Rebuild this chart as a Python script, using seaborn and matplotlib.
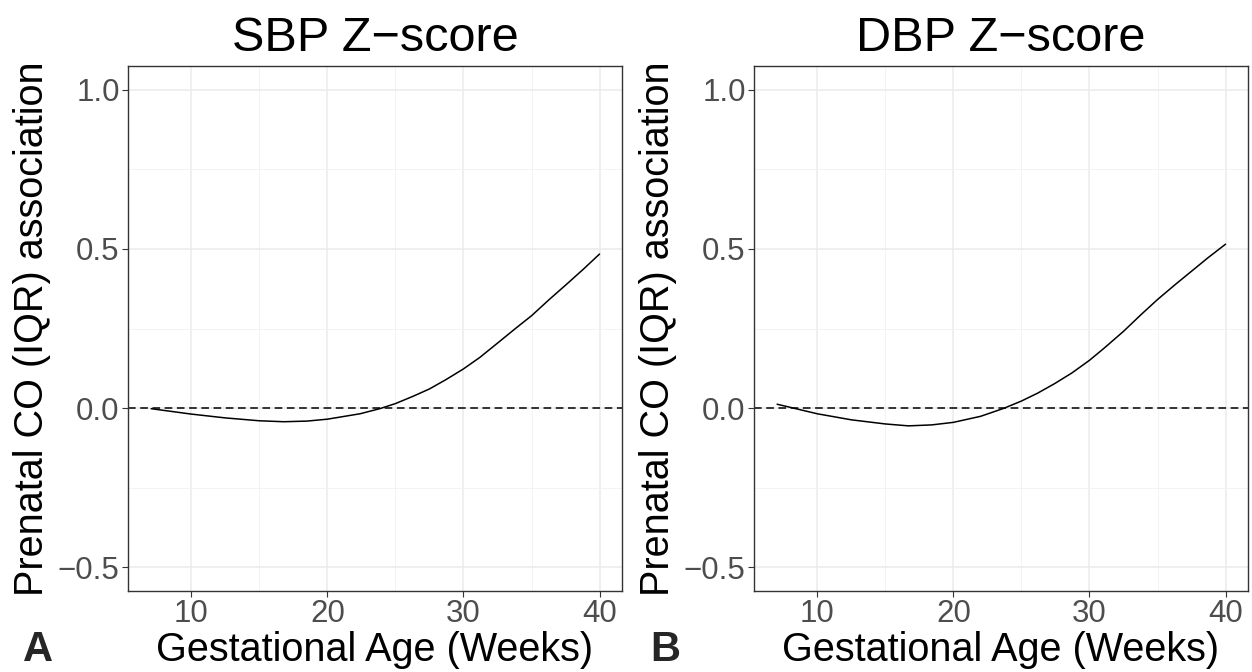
import matplotlib
matplotlib.use("Agg")
import matplotlib.pyplot as plt
import seaborn as sns
import pandas as pd
from matplotlib.ticker import MultipleLocator

# ---- data ----
weeks_sbp = [7.05, 10, 12.5, 15, 16.8, 18.5, 20, 22.4, 23.85, 25, 26.3, 27.5,
             28.7, 30, 31.2, 32.5, 33.85, 35, 36.3, 37.55, 38.8, 40]
sbp_assoc = [-0.002, -0.019, -0.031, -0.040, -0.043, -0.041, -0.035, -0.018,
             -0.002, 0.014, 0.037, 0.060, 0.089, 0.123, 0.159, 0.204, 0.251,
             0.290, 0.341, 0.388, 0.436, 0.484]
weeks_dbp = [7.05, 10, 12.5, 15, 16.7, 18.4, 20, 22, 23.7, 25, 26.2, 27.45,
             28.7, 30, 31.1, 32.5, 33.8, 35, 36.3, 37.5, 38.7, 40]
dbp_assoc = [0.012, -0.018, -0.037, -0.050, -0.056, -0.053, -0.045, -0.026,
             -0.001, 0.022, 0.047, 0.077, 0.110, 0.150, 0.189, 0.241, 0.294,
             0.341, 0.388, 0.430, 0.472, 0.515]
titles = ["SBP Z\u2212score", "DBP Z\u2212score"]
panel_tags = ["A", "B"]
x_ticks = [10, 20, 30, 40]
y_ticks = [-0.5, 0.0, 0.5, 1.0]
y_tick_labels = ["\u22120.5", "0.0", "0.5", "1.0"]
x_label = "Gestational Age (Weeks)"
y_label = "Prenatal CO (IQR) association"

sns.set_theme(style="white")
plt.rcParams["font.family"] = ["Liberation Sans", "DejaVu Sans"]

W, H = 1252, 672
fig = plt.figure(figsize=(W / 100, H / 100), dpi=100)

frames = [
    pd.DataFrame({"week": weeks_sbp, "assoc": sbp_assoc}),
    pd.DataFrame({"week": weeks_dbp, "assoc": dbp_assoc}),
]
lefts_px = [128, 754]
tag_x_px = [23, 650]
width_px = 494
top_px, bottom_px = 66, 591

for i, df in enumerate(frames):
    ax = fig.add_axes([lefts_px[i] / W, 1 - bottom_px / H, width_px / W,
                       (bottom_px - top_px) / H])
    ax.set_facecolor("white")
    ax.axhline(0, color="black", lw=1.1, ls=(0, (5, 3)), zorder=2)
    sns.lineplot(data=df, x="week", y="assoc", ax=ax, color="black", lw=1.1,
                 zorder=3)
    ax.set_xlim(5.35, 41.65)
    ax.set_ylim(-0.575, 1.075)
    ax.set_xticks(x_ticks)
    ax.set_yticks(y_ticks)
    ax.set_yticklabels(y_tick_labels)
    ax.xaxis.set_minor_locator(MultipleLocator(5))
    ax.yaxis.set_minor_locator(MultipleLocator(0.25))
    ax.grid(which="major", color="#EBEBEB", lw=1.1, zorder=0)
    ax.grid(which="minor", color="#F3F3F3", lw=0.7, zorder=0)
    ax.set_axisbelow(True)
    for s in ax.spines.values():
        s.set_visible(True)
        s.set_color("#333333")
        s.set_linewidth(1.0)
    ax.tick_params(which="major", direction="out", length=4, width=0.8,
                   color="#333333", labelsize=22.5, labelcolor="#4D4D4D",
                   bottom=True, left=True, pad=2)
    ax.tick_params(which="minor", length=0)
    ax.set_xlabel(x_label, fontsize=28.5, color="black", labelpad=1)
    ax.set_ylabel(y_label, fontsize=28.5, color="black", labelpad=5)
    ax.set_title(titles[i], fontsize=35, color="black", pad=11)
    fig.text(tag_x_px[i] / W, 1 - 650 / H, panel_tags[i],
             fontsize=30, fontweight="bold", ha="left", va="center")

fig.savefig("out.png", dpi=100)
